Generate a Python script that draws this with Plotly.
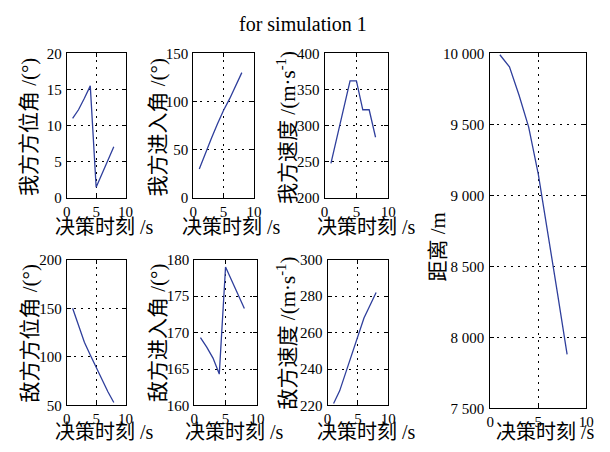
import plotly.graph_objects as go

W, H = 610, 452

# ---------------- data ----------------
decision_time = [1, 2, 3, 4, 5, 6, 7, 8]

own_azimuth = [11.0, 12.2, 13.8, 15.5, 1.5, 3.4, 5.3, 7.1]          # 我方方位角 (°)
own_entry = [30, 47, 62, 77, 91, 103, 116, 130]                     # 我方进入角 (°)
own_speed = [248, 285, 322, 362, 362, 322, 322, 284]                # 我方速度 (m/s)
enemy_azimuth = [150, 132, 115, 102, 89, 76, 64, 53]                # 敌方方位角 (°)
enemy_entry = [169.3, 168.0, 166.5, 164.3, 179.0, 177.1, 175.2, 173.3]  # 敌方进入角 (°)
enemy_speed = [221, 228, 238, 248, 258, 268, 275, 282]              # 敌方速度 (m/s)
distance = [9990, 9905, 9705, 9480, 9150, 8740, 8310, 7880]         # 距离 (m)

x_ticks = [0, 5, 10]
dist_tickvals = [7500, 8000, 8500, 9000, 9500, 10000]
dist_ticktext = ["7 500", "8 000", "8 500", "9 000", "9 500", "10 000"]

title_text = "for simulation 1"
x_title = "决策时刻 /s"

panels = [
    dict(y=own_azimuth, yr=[0, 20], dt=5, yt="我方方位角 /(°)"),
    dict(y=own_entry, yr=[0, 150], dt=50, yt="我方进入角 /(°)"),
    dict(y=own_speed, yr=[200, 400], dt=50, yt="我方速度 /(m·s<sup>-1</sup>)"),
    dict(y=enemy_azimuth, yr=[50, 200], dt=50, yt="敌方方位角 /(°)"),
    dict(y=enemy_entry, yr=[160, 180], dt=5, yt="敌方进入角 /(°)"),
    dict(y=enemy_speed, yr=[220, 300], dt=20, yt="敌方速度 /(m·s<sup>-1</sup>)"),
    dict(y=distance, yr=[7500, 10000], dt=None, yt="距离 /m"),
]

# layout in pixels: (x0, x1, y0, y1), y measured from top
boxes = [
    (64, 124, 47, 197),
    (193, 255, 47, 197),
    (327, 392, 47, 197),
    (64, 124, 261, 412),
    (194, 258, 261, 412),
    (330, 392, 261, 412),
    (496, 594, 47, 415),
]
ytitle_pos = [(25, 124), (157, 124), (288, 124), (27, 337), (157, 337), (288, 337), (443, 248)]
xtitle_pos = [(103, 227), (232, 227), (370, 227), (103, 440), (235, 440), (370, 440), (552, 440)]

LINE = "#2f3f9c"
FONT = "Liberation Serif, Times New Roman, Noto Sans CJK SC, serif"
CJK = "Liberation Serif, Noto Sans CJK SC, serif"

fig = go.Figure()
annotations = []
layout = {}
for i, (p, b) in enumerate(zip(panels, boxes)):
    n = i + 1
    xa = "xaxis" if n == 1 else f"xaxis{n}"
    ya = "yaxis" if n == 1 else f"yaxis{n}"
    xr = "x" if n == 1 else f"x{n}"
    yr = "y" if n == 1 else f"y{n}"
    fig.add_trace(go.Scatter(x=decision_time, y=p["y"], mode="lines",
                             line=dict(color=LINE, width=1.3),
                             xaxis=xr, yaxis=yr, showlegend=False,
                             hoverinfo="skip"))
    x0, x1, y0, y1 = b
    common = dict(showline=True, linecolor="black", linewidth=1, mirror="allticks",
                  ticks="inside", ticklen=4, tickwidth=1, tickcolor="black",
                  showgrid=True, gridcolor="black", gridwidth=1, griddash="2px,5px",
                  zeroline=False, tickfont=dict(family=FONT, size=15, color="black"),
                  fixedrange=True)
    layout[xa] = dict(domain=[x0 / W, x1 / W], range=[0, 10], tickvals=x_ticks,
                      anchor=yr, ticklabelstandoff=0, **common)
    if p["dt"] is None:
        layout[ya] = dict(domain=[1 - y1 / H, 1 - y0 / H], range=p["yr"],
                          tickvals=dist_tickvals, ticktext=dist_ticktext,
                          anchor=xr, ticklabelstandoff=2, **common)
    else:
        layout[ya] = dict(domain=[1 - y1 / H, 1 - y0 / H], range=p["yr"],
                          dtick=p["dt"], tick0=0, anchor=xr, ticklabelstandoff=1, **common)
    tx, ty = ytitle_pos[i]
    annotations.append(dict(text=p["yt"], x=tx / W, y=1 - ty / H, xref="paper", yref="paper",
                            xanchor="center", yanchor="middle", textangle=-90, showarrow=False,
                            font=dict(family=CJK, size=21, color="black")))
    tx, ty = xtitle_pos[i]
    annotations.append(dict(text=x_title, x=tx / W, y=1 - ty / H, xref="paper", yref="paper",
                            xanchor="center", yanchor="middle", showarrow=False,
                            font=dict(family=CJK, size=20, color="black")))

annotations.append(dict(text=title_text, x=305 / W, y=1 - 17 / H, xref="paper", yref="paper",
                        xanchor="center", yanchor="middle", showarrow=False,
                        font=dict(family=FONT, size=20, color="black")))

fig.update_layout(width=W, height=H, margin=dict(l=0, r=0, t=0, b=0),
                  paper_bgcolor="white", plot_bgcolor="white",
                  annotations=annotations, **layout)

fig.write_html("out.html", config={"displayModeBar": False},
               post_script="document.body.style.margin='0';document.body.style.overflow='hidden';")
